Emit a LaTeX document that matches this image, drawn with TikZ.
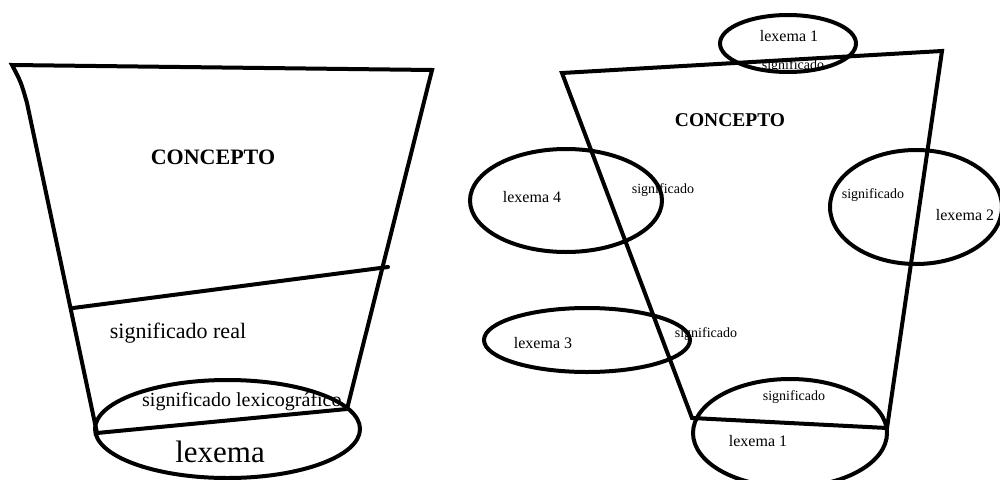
\documentclass[tikz,border=0pt]{standalone}
\usepackage{fontspec}
\setmainfont{Liberation Serif}
\begin{document}
\begin{tikzpicture}[x=1pt,y=-1pt,
  stroke/.style={line width=4pt, line join=miter, line cap=round},
  lbl/.style={inner sep=0pt, font=\fontsize{#1}{#1}\selectfont},
  bold/.style={inner sep=0pt, font=\fontsize{#1}{#1}\selectfont\bfseries}]
\clip (0,0) rectangle (1000,479);
\fill[white] (0,0) rectangle (1000,479);

% ---------------- left diagram ----------------
\node[bold=22] (c1) at (213,157) {CONCEPTO};
\node[lbl=22] (sr) at (178,333) {significado real};
\node[lbl=20, anchor=west] (sl) at (142,402) {significado lexicográfico};
\node[lbl=31] (lx) at (220,452) {lexema};

\coordinate (a1) at (12,65);
\coordinate (a2) at (432,70);
\coordinate (a3) at (347,409);
\coordinate (a4) at (97,433);
\coordinate (m1) at (73,308);
\coordinate (m2) at (388,267);
\draw[stroke] (a4) -- (27,103) .. controls (21,82) .. (a1) -- (a2) -- (a3);
\draw[stroke] (m1) -- (m2);
\draw[stroke] (a4) -- (a3);
\draw[stroke] (227.5,429) ellipse [x radius=132.5pt, y radius=49pt];

% ---------------- right diagram ----------------
\node[bold=19.5] (c2) at (730,120) {CONCEPTO};
\node[lbl=16] (t1) at (789,36) {lexema 1};
\node[lbl=14] (s1) at (793,66) {significado};
\node[lbl=16] (t4) at (532,197) {lexema 4};
\node[lbl=14] (s4) at (663,190) {significado};
\node[lbl=14] (s2) at (873,195) {significado};
\node[lbl=16] (t2) at (965,215) {lexema 2};
\node[lbl=16] (t3) at (543,343) {lexema 3};
\node[lbl=14] (s3) at (706,334) {significado};
\node[lbl=14] (sb) at (794,397) {significado};
\node[lbl=16] (tb) at (758,441) {lexema 1};

\coordinate (b1) at (562,73);
\coordinate (b2) at (942,51);
\coordinate (b3) at (887,428);
\coordinate (b4) at (692,418);
\draw[stroke] (b1) -- (b2) -- (b3) -- (b4) -- cycle;

\draw[stroke] (788,43.5) ellipse [x radius=68pt, y radius=28.5pt];
\draw[stroke] (566,200.5) ellipse [x radius=96pt, y radius=51.5pt];
\draw[stroke] (916,207) ellipse [x radius=86pt, y radius=57pt];
\draw[stroke] (587,340) ellipse [x radius=103pt, y radius=32pt];
\draw[stroke] (790,433) ellipse [x radius=97pt, y radius=54pt];
\end{tikzpicture}
\end{document}
